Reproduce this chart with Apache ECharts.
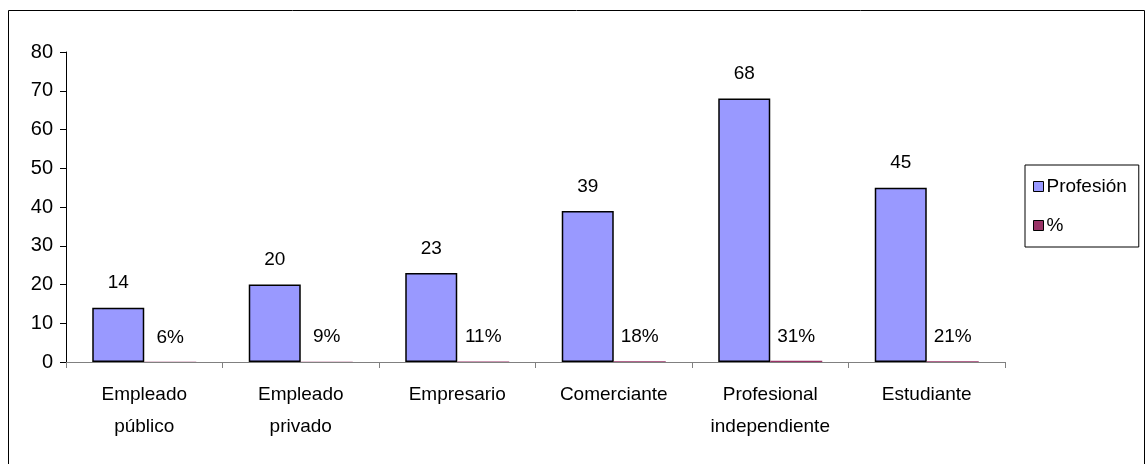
<!DOCTYPE html>
<html><head><meta charset="utf-8">
<script src="https://cdn.jsdelivr.net/npm/echarts@6/dist/echarts.min.js"></script>
<style>html,body{margin:0;padding:0;background:#fff}#c{width:1147px;height:464px}</style>
</head><body><div id="c"></div>
<script>
const categories = ['Empleado\npúblico', 'Empleado\nprivado', 'Empresario', 'Comerciante', 'Profesional\nindependiente', 'Estudiante'];
const profesion = [14, 20, 23, 39, 68, 45];
const porcentaje = [0.06, 0.09, 0.11, 0.18, 0.31, 0.21];
const yTicks = [0, 10, 20, 30, 40, 50, 60, 70, 80];

const FONT = 'Liberation Sans, Arial, sans-serif';
const chart = echarts.init(document.getElementById('c'));
chart.setOption({
  animation: false,
  graphic: [{
    type: 'rect', shape: { x: 8.5, y: 10.5, width: 1136, height: 470 },
    style: { fill: 'none', stroke: '#000', lineWidth: 1 }, silent: true
  }],
  grid: { left: 66, right: 142, top: 52, bottom: 102, containLabel: false },
  legend: {
    orient: 'vertical', left: 1025, top: 165,
    data: ['Profesión', '%'],
    itemWidth: 10, itemHeight: 10, itemGap: 20,
    padding: [12, 12, 12, 8],
    borderColor: '#000', borderWidth: 1,
    itemStyle: { borderColor: '#000', borderWidth: 1 },
    textStyle: { fontFamily: FONT, fontSize: 19, color: '#000', padding: [0, 0, 0, -2] },
    icon: 'rect'
  },
  xAxis: {
    type: 'category', data: categories,
    axisLine: { lineStyle: { color: '#808080', width: 1 } },
    axisTick: { show: true, length: 6, lineStyle: { color: '#808080' } },
    axisLabel: { fontFamily: FONT, fontSize: 19, color: '#000', margin: 17, lineHeight: 32 }
  },
  yAxis: {
    type: 'value', min: yTicks[0], max: yTicks[yTicks.length - 1], interval: 10,
    axisLine: { show: true, lineStyle: { color: '#000', width: 1 } },
    axisTick: { show: true, length: 6, lineStyle: { color: '#000' } },
    splitLine: { show: false },
    axisLabel: { fontFamily: FONT, fontSize: 20, color: '#000', margin: 13 }
  },
  series: [
    {
      name: 'Profesión', type: 'bar', data: profesion,
      barWidth: 52, barGap: '0%',
      itemStyle: { color: '#9999FF', borderColor: '#000', borderWidth: 1.5 },
      label: { show: true, position: 'top', distance: 15, fontFamily: FONT, fontSize: 19, color: '#000' }
    },
    {
      name: '%', type: 'bar', data: porcentaje,
      barWidth: 52,
      itemStyle: { color: '#993366', borderColor: '#000', borderWidth: 0 },
      label: {
        show: true, position: 'top', distance: 15, fontFamily: FONT, fontSize: 19, color: '#000',
        formatter: p => Math.round(p.value * 100) + '%'
      }
    }
  ]
});
</script></body></html>
